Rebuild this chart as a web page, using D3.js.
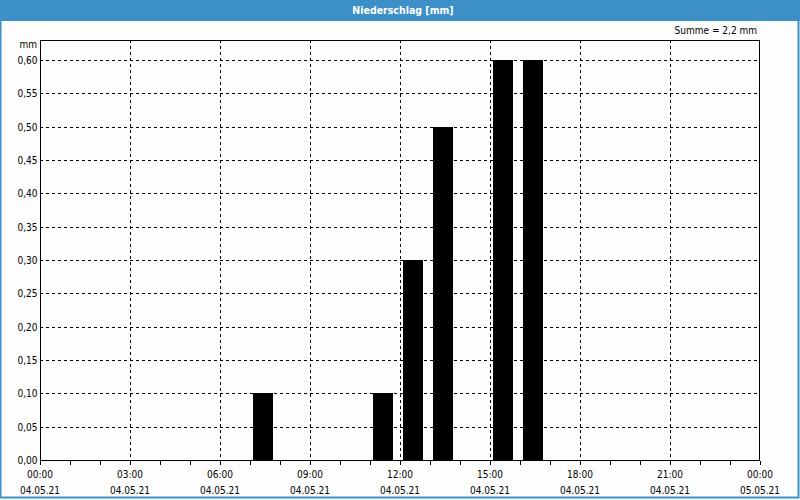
<!DOCTYPE html>
<html><head><meta charset="utf-8">
<script src="https://cdn.jsdelivr.net/npm/d3@7"></script>
<style>
html,body{margin:0;padding:0;background:#fff;}
svg{display:block;}
text{font-family:"DejaVu Sans Condensed","Liberation Sans Narrow",sans-serif;}
</style></head>
<body>
<script>
const title = "Niederschlag [mm]";
const sumLabel = "Summe = 2,2 mm";
const unitLabel = "mm";
const hours = [7, 11, 12, 13, 15, 16];
const values = [0.10, 0.10, 0.30, 0.50, 0.60, 0.60];
const yTicks = [0, 0.05, 0.10, 0.15, 0.20, 0.25, 0.30, 0.35, 0.40, 0.45, 0.50, 0.55, 0.60];
const xTickHours = [0, 3, 6, 9, 12, 15, 18, 21, 24];
const xTimeLabels = ["00:00","03:00","06:00","09:00","12:00","15:00","18:00","21:00","00:00"];
const xDateLabels = ["04.05.21","04.05.21","04.05.21","04.05.21","04.05.21","04.05.21","04.05.21","04.05.21","05.05.21"];

const W = 800, H = 500;
const blue = "#3d8fc7";
const fs = "10px";
const svg = d3.select("body").append("svg").attr("width", W).attr("height", H);
svg.append("rect").attr("x",0).attr("y",0).attr("width",W).attr("height",H).attr("fill","#fcfdfc");
// border
svg.append("rect").attr("x",0.5).attr("y",0.5).attr("width",W-2).attr("height",H-3)
  .attr("fill","none").attr("stroke",blue).attr("stroke-width",2);
svg.append("rect").attr("x",0).attr("y",0).attr("width",W).attr("height",21).attr("fill",blue);
svg.append("text").attr("x",403).attr("y",14).attr("text-anchor","middle")
  .attr("fill","#fff").attr("font-weight","bold").attr("font-size","10.5px").text(title);

const L = 40, R = 760, T = 40, B = 460;
const x = d3.scaleLinear().domain([0,24]).range([L,R]);
const y = d3.scaleLinear().domain([0,0.6]).range([B,60]);

// grid
const g = svg.append("g");
g.selectAll(".hg").data(yTicks.filter(d=>d>0)).enter().append("line")
  .attr("x1",L).attr("x2",R).attr("y1",d=>Math.round(y(d))+0.5).attr("y2",d=>Math.round(y(d))+0.5)
  .attr("stroke","#000").attr("stroke-dasharray","3,3").attr("shape-rendering","crispEdges");
g.selectAll(".vg").data(xTickHours.filter(d=>d>0&&d<24)).enter().append("line")
  .attr("x1",d=>Math.round(x(d))+0.5).attr("x2",d=>Math.round(x(d))+0.5).attr("y1",T).attr("y2",B)
  .attr("stroke","#000").attr("stroke-dasharray","3,3").attr("shape-rendering","crispEdges");

// bars
svg.selectAll(".bar").data(hours).enter().append("rect")
  .attr("x",d=>x(d+0.1)).attr("width",(d)=>x(d+0.1+2/3)-x(d+0.1))
  .attr("y",(d,i)=>y(values[i])).attr("height",(d,i)=>B-y(values[i]))
  .attr("fill","#000").attr("shape-rendering","crispEdges");

// frame
svg.append("rect").attr("x",L+0.5).attr("y",T+0.5).attr("width",R-L-1).attr("height",B-T)
  .attr("fill","none").attr("stroke","#000").attr("shape-rendering","crispEdges");

// y axis
const yAxis = d3.axisLeft(y).tickValues(yTicks).tickSize(3).tickFormat(d=>d3.format(".2f")(d).replace(".",","));
const ya = svg.append("g").attr("transform",`translate(${L+0.5},0)`).call(yAxis);
ya.select(".domain").remove();
ya.selectAll("line").remove();
ya.selectAll("text").attr("font-size",fs).attr("fill","#000").attr("x",-3).attr("dy","0.35em")
  .attr("font-family","DejaVu Sans Condensed, Liberation Sans Narrow, sans-serif");

// x axis minor ticks
const xAxis = d3.axisBottom(x).tickValues(d3.range(0,25)).tickSize(4).tickFormat("");
const xa = svg.append("g").attr("transform",`translate(0,${B+0.5})`).call(xAxis);
xa.select(".domain").remove();
xa.selectAll("line").attr("stroke","#000").attr("shape-rendering","crispEdges");

svg.selectAll(".xt").data(xTickHours).enter().append("text")
  .attr("x",d=>x(d)).attr("y",478).attr("text-anchor","middle").attr("font-size",fs).attr("fill","#000")
  .text((d,i)=>xTimeLabels[i]);
svg.selectAll(".xd").data(xTickHours).enter().append("text")
  .attr("x",d=>x(d)).attr("y",494).attr("text-anchor","middle").attr("font-size",fs).attr("fill","#000")
  .text((d,i)=>xDateLabels[i]);

svg.append("text").attr("x",37).attr("y",48).attr("text-anchor","end").attr("font-size",fs).text(unitLabel);
svg.append("text").attr("x",757).attr("y",34).attr("text-anchor","end").attr("font-size",fs).text(sumLabel);
</script>
</body></html>
